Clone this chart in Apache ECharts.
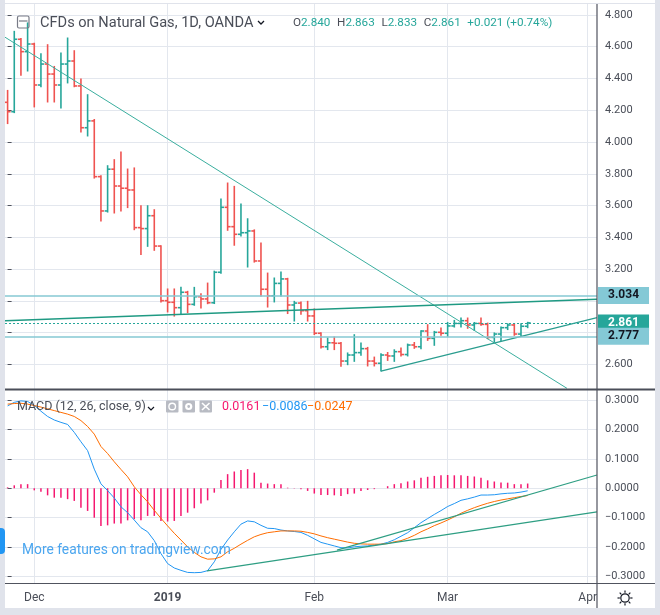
<!DOCTYPE html>
<html>
<head>
<meta charset="utf-8">
<script src="https://cdn.jsdelivr.net/npm/echarts@6/dist/echarts.min.js"></script>
<style>
html, body { margin: 0; padding: 0; background: #fff; }
#container { width: 660px; height: 615px; }
</style>
</head>
<body>
<div id="container"></div>
<script>
// daily bars 27 Nov 2018 .. 19 Mar 2019, x = bar index
var openV = [4.250, 4.191, 4.647, 4.569, 4.617, 4.359, 4.491, 4.428, 4.359, 4.491,
    4.510, 4.353, 4.090, 4.133, 3.782, 3.566, 3.829, 3.723, 3.709, 3.698,
    3.461, 3.455, 3.536, 3.345, 3.001, 2.991, 2.957, 3.054, 2.978, 3.026,
    3.012, 2.988, 3.180, 3.589, 3.467, 3.419, 3.429, 3.440, 3.251, 3.073,
    3.032, 3.110, 3.138, 2.974, 2.986, 2.938, 2.905, 2.796, 2.711, 2.736,
    2.733, 2.621, 2.659, 2.674, 2.699, 2.621, 2.607, 2.659, 2.653, 2.680,
    2.662, 2.722, 2.711, 2.810, 2.764, 2.802, 2.796, 2.842, 2.858, 2.875,
    2.848, 2.858, 2.852, 2.770, 2.791, 2.831, 2.848, 2.791, 2.840];
var highV = [4.323, 4.695, 4.650, 4.748, 4.620, 4.554, 4.611, 4.474, 4.559, 4.653,
    4.573, 4.395, 4.296, 4.140, 3.785, 3.849, 3.887, 3.935, 3.828, 3.835,
    3.597, 3.597, 3.572, 3.345, 3.073, 3.073, 3.083, 3.058, 3.083, 3.043,
    3.110, 3.185, 3.639, 3.740, 3.719, 3.608, 3.515, 3.445, 3.362, 3.173,
    3.142, 3.180, 3.140, 2.995, 2.991, 2.995, 2.947, 2.798, 2.764, 2.770,
    2.736, 2.670, 2.785, 2.733, 2.705, 2.644, 2.665, 2.673, 2.690, 2.701,
    2.726, 2.736, 2.810, 2.848, 2.806, 2.827, 2.862, 2.875, 2.890, 2.890,
    2.862, 2.890, 2.858, 2.796, 2.833, 2.854, 2.854, 2.854, 2.863];
var lowV = [4.118, 4.187, 4.422, 4.449, 4.223, 4.350, 4.254, 4.254, 4.216, 4.374,
    4.350, 4.065, 4.040, 3.775, 3.505, 3.561, 3.555, 3.568, 3.589, 3.450,
    3.293, 3.345, 3.320, 2.995, 2.932, 2.906, 2.917, 2.928, 2.974, 2.957,
    2.984, 2.985, 3.175, 3.446, 3.352, 3.410, 3.215, 3.246, 3.032, 2.963,
    2.995, 3.032, 2.922, 2.875, 2.917, 2.875, 2.790, 2.705, 2.695, 2.695,
    2.590, 2.600, 2.621, 2.659, 2.592, 2.592, 2.560, 2.627, 2.621, 2.655,
    2.655, 2.703, 2.701, 2.753, 2.722, 2.785, 2.779, 2.837, 2.837, 2.829,
    2.816, 2.848, 2.764, 2.743, 2.753, 2.821, 2.785, 2.779, 2.833];
var closeV = [4.191, 4.647, 4.569, 4.617, 4.359, 4.491, 4.428, 4.359, 4.491, 4.510,
    4.353, 4.090, 4.133, 3.782, 3.566, 3.829, 3.723, 3.709, 3.698, 3.461,
    3.455, 3.536, 3.345, 3.001, 2.991, 2.957, 3.054, 2.978, 3.026, 3.012,
    2.988, 3.180, 3.589, 3.467, 3.419, 3.429, 3.440, 3.251, 3.073, 3.032,
    3.110, 3.138, 2.974, 2.986, 2.938, 2.905, 2.796, 2.711, 2.736, 2.733,
    2.621, 2.659, 2.674, 2.699, 2.621, 2.607, 2.659, 2.653, 2.680, 2.662,
    2.722, 2.711, 2.810, 2.764, 2.802, 2.796, 2.842, 2.858, 2.875, 2.848,
    2.858, 2.852, 2.770, 2.791, 2.831, 2.848, 2.791, 2.840, 2.861];

// MACD (12, 26, close, 9)
var macdV = [0.280, 0.292, 0.297, 0.295, 0.282, 0.262, 0.244, 0.232, 0.224, 0.217,
    0.190, 0.158, 0.128, 0.065, 0.015, -0.008, -0.033, -0.063, -0.083, -0.108,
    -0.134, -0.148, -0.178, -0.222, -0.256, -0.271, -0.279, -0.286, -0.287, -0.286,
    -0.280, -0.250, -0.208, -0.176, -0.148, -0.122, -0.111, -0.114, -0.126, -0.136,
    -0.137, -0.142, -0.145, -0.147, -0.150, -0.160, -0.172, -0.184, -0.190, -0.196,
    -0.202, -0.203, -0.199, -0.197, -0.196, -0.193, -0.190, -0.184, -0.175, -0.163,
    -0.151, -0.134, -0.117, -0.103, -0.089, -0.076, -0.062, -0.052, -0.041, -0.036,
    -0.030, -0.023, -0.023, -0.022, -0.019, -0.017, -0.016, -0.013, -0.0086];
var signalV = [0.286, 0.288, 0.289, 0.286, 0.281, 0.276, 0.270, 0.264, 0.258, 0.252,
    0.244, 0.230, 0.210, 0.184, 0.142, 0.118, 0.090, 0.064, 0.039, 0.005,
    -0.022, -0.046, -0.075, -0.102, -0.128, -0.153, -0.176, -0.199, -0.218, -0.233,
    -0.241, -0.240, -0.233, -0.216, -0.204, -0.190, -0.177, -0.165, -0.157, -0.151,
    -0.148, -0.145, -0.145, -0.145, -0.146, -0.150, -0.155, -0.162, -0.168, -0.173,
    -0.178, -0.183, -0.187, -0.189, -0.190, -0.190, -0.190, -0.188, -0.182, -0.178,
    -0.170, -0.160, -0.148, -0.138, -0.127, -0.118, -0.108, -0.097, -0.085, -0.075,
    -0.066, -0.058, -0.051, -0.045, -0.040, -0.036, -0.032, -0.028, -0.0247];
var histV = [0.003, 0.010, 0.014, 0.014, -0.007, -0.012, -0.024, -0.032, -0.032, -0.037,
    -0.043, -0.066, -0.077, -0.100, -0.128, -0.126, -0.120, -0.120, -0.109, -0.105,
    -0.109, -0.094, -0.094, -0.111, -0.113, -0.111, -0.094, -0.083, -0.068, -0.052,
    -0.041, -0.015, 0.028, 0.048, 0.057, 0.062, 0.065, 0.053, 0.019, 0.016,
    0.014, 0.014, 0.002, -0.001, -0.003, -0.009, -0.018, -0.023, -0.023, -0.024,
    -0.026, -0.020, -0.018, -0.009, -0.006, -0.003, 0.000, 0.007, 0.014, 0.017,
    0.023, 0.027, 0.036, 0.039, 0.042, 0.044, 0.045, 0.044, 0.044, 0.042,
    0.040, 0.036, 0.027, 0.023, 0.020, 0.019, 0.014, 0.014, 0.0161];

var tickIdx = [4, 24, 46, 66, 87];
var tickLabels = ['Dec', '2019', 'Feb', 'Mar', 'Apr'];
var priceTicks = [2.6, 2.8, 3.0, 3.2, 3.4, 3.6, 3.8, 4.0, 4.2, 4.4, 4.6, 4.8];
var macdTicks = [-0.3, -0.2, -0.1, 0, 0.1, 0.2, 0.3];
var levels = [3.034, 2.861, 2.777];

// drawn trend lines [barIndex, value]
var trendDown = [[-0.39, 4.660], [83.9, 2.449]];
var trendFlat = [[-0.39, 2.875], [88.4, 3.010]];
var trendUp = [[56, 2.558], [88.4, 2.894]];
var macdTrendLow = [[29.9, -0.281], [88.4, -0.080]];
var macdTrendUp = [[49.4, -0.210], [88.4, 0.045]];

var upColor = '#26a69a';
var downColor = '#ef5350';
var gridColor = '#e3e7ee';
var axisText = '#4a4e58';
var font = 'Roboto, "Liberation Sans", sans-serif';

var bars = openV.map(function (o, i) {
    return [i, o, highV[i], lowV[i], closeV[i]];
});
function pairs(arr) {
    return arr.map(function (v, i) { return [i, v]; });
}
function minus(s) {
    return s.replace('-', '\u2212');
}

function renderBar(params, api) {
    var i = api.value(0);
    var o = api.value(1);
    var c = api.value(4);
    var hi = api.coord([i, api.value(2)]);
    var lo = api.coord([i, api.value(3)]);
    var po = api.coord([i, o]);
    var pc = api.coord([i, c]);
    var w = api.size([1, 0])[0] * 0.45;
    var st = { stroke: c >= o ? upColor : downColor, lineWidth: 1.6 };
    return {
        type: 'group',
        children: [
            { type: 'line', shape: { x1: hi[0], y1: hi[1] - 0.8, x2: lo[0], y2: lo[1] + 0.8 }, style: st },
            { type: 'line', shape: { x1: po[0] - w, y1: po[1], x2: po[0], y2: po[1] }, style: st },
            { type: 'line', shape: { x1: pc[0], y1: pc[1], x2: pc[0] + w, y2: pc[1] }, style: st }
        ]
    };
}

function renderHist(params, api) {
    var i = api.value(0);
    var p0 = api.coord([i, 0]);
    var p1 = api.coord([i, api.value(1)]);
    return {
        type: 'line',
        shape: { x1: p0[0], y1: p0[1], x2: p1[0], y2: p1[1] },
        style: { stroke: '#f5176f', lineWidth: 1.5 }
    };
}

function trend(data, color, width, xi, yi) {
    return {
        type: 'line', data: data, xAxisIndex: xi, yAxisIndex: yi,
        symbol: 'none', silent: true, animation: false,
        lineStyle: { color: color, width: width }
    };
}

var last = closeV.length - 1;
var chg = closeV[last] - openV[last];
var pct = chg / closeV[last - 1] * 100;

var flat = trend(trendFlat, '#1f9a83', 1.6, 0, 0);
flat.markLine = {
    symbol: 'none', silent: true, animation: false, precision: 3,
    data: levels.map(function (v, k) {
        var cur = k === 1;
        return {
            yAxis: v,
            lineStyle: cur ? { color: upColor, width: 1, type: [2, 2] } : { color: '#86c9d3', width: 1.5, type: 'solid' },
            label: {
                show: true, position: 'end', distance: 1,
                formatter: function (p) { return levels[p.dataIndex].toFixed(3); },
                backgroundColor: cur ? upColor : '#84c9d6',
                color: cur ? '#ffffff' : '#131722',
                fontFamily: font, fontSize: 12, fontWeight: 'bold',
                padding: [3, 10, 2, 10]
            }
        };
    })
};

var spokes = [];
for (var a = 0; a < 8; a++) {
    var ang = a * Math.PI / 4;
    spokes.push({
        type: 'line', z: 100,
        shape: { x1: 625 + Math.cos(ang) * 5.2, y1: 598 + Math.sin(ang) * 5.2, x2: 625 + Math.cos(ang) * 7.5, y2: 598 + Math.sin(ang) * 7.5 },
        style: { stroke: '#131722', lineWidth: 1.2 }
    });
}

var myChart = echarts.init(document.getElementById('container'));
var option = {
    backgroundColor: '#ffffff',
    animation: false,
    grid: [
        { left: 5, right: 63, top: 4, height: 385 },
        { left: 5, right: 63, top: 390, height: 193 }
    ],
    xAxis: [{
        gridIndex: 0, type: 'value', min: -0.39, max: 88.4,
        axisLine: { show: false },
        axisTick: { show: false, customValues: tickIdx },
        axisLabel: { show: false, customValues: tickIdx },
        splitLine: { show: true, lineStyle: { color: gridColor } }
    }, {
        gridIndex: 1, type: 'value', min: -0.39, max: 88.4,
        axisLine: { show: false },
        axisTick: { show: false, customValues: tickIdx },
        axisLabel: {
            customValues: tickIdx, margin: 9, color: axisText, fontFamily: font, fontSize: 12,
            formatter: function (v) {
                var k = tickIdx.indexOf(Math.round(v));
                return k === 1 ? '{b|' + tickLabels[k] + '}' : tickLabels[k];
            },
            rich: { b: { fontWeight: 'bold', color: axisText, fontFamily: font, fontSize: 12 } }
        },
        splitLine: { show: true, lineStyle: { color: gridColor } }
    }],
    yAxis: [{
        gridIndex: 0, type: 'value', position: 'right', min: 2.445, max: 4.869,
        axisLine: { show: false },
        axisTick: { show: true, length: 4, customValues: priceTicks, lineStyle: { color: '#50535e' } },
        axisLabel: {
            customValues: priceTicks, margin: 8, color: axisText, fontFamily: font, fontSize: 11,
            formatter: function (v) { return v.toFixed(3); }
        },
        splitLine: { show: true, lineStyle: { color: gridColor } }
    }, {
        gridIndex: 1, type: 'value', position: 'right', min: -0.322, max: 0.334,
        axisLine: { show: false },
        axisTick: { show: true, length: 4, customValues: macdTicks, lineStyle: { color: '#50535e' } },
        axisLabel: {
            customValues: macdTicks, margin: 8, color: axisText, fontFamily: font, fontSize: 11,
            formatter: function (v) { return minus(v.toFixed(4)); }
        },
        splitLine: { show: true, lineStyle: { color: gridColor } }
    }],
    series: [
        trend(trendDown, '#3aae9e', 1, 0, 0),
        flat,
        trend(trendUp, '#2a9d8f', 1.2, 0, 0),
        {
            type: 'custom', name: 'price', data: bars, xAxisIndex: 0, yAxisIndex: 0,
            renderItem: renderBar, clip: true, silent: true,
            encode: { x: 0, y: [1, 2, 3, 4] }
        },
        {
            type: 'custom', name: 'hist', data: pairs(histV), xAxisIndex: 1, yAxisIndex: 1,
            renderItem: renderHist, clip: true, silent: true,
            encode: { x: 0, y: 1 }
        },
        trend(pairs(macdV), '#2196f3', 1, 1, 1),
        trend(pairs(signalV), '#ff6d00', 1, 1, 1),
        trend(macdTrendLow, '#2e9e83', 1.2, 1, 1),
        trend(macdTrendUp, '#2e9e83', 1.2, 1, 1)
    ],
    graphic: [
        { type: 'rect', z: 100, shape: { x: 0, y: 0, width: 5, height: 615 }, style: { fill: '#e0e3eb' } },
        { type: 'rect', z: 100, shape: { x: 655, y: 0, width: 5, height: 615 }, style: { fill: '#e0e3eb' } },
        { type: 'rect', z: 100, shape: { x: 0, y: 608, width: 660, height: 7 }, style: { fill: '#e0e3eb' } },
        { type: 'line', z: 100, shape: { x1: 5, y1: 3.5, x2: 655, y2: 3.5 }, style: { stroke: '#e0e3eb', lineWidth: 1 } },
        { type: 'line', z: 100, shape: { x1: 597, y1: 4, x2: 597, y2: 608 }, style: { stroke: '#50535e', lineWidth: 1.2 } },
        { type: 'line', z: 100, shape: { x1: 5, y1: 389.5, x2: 655, y2: 389.5 }, style: { stroke: '#4a4e59', lineWidth: 2 } },
        { type: 'line', z: 100, shape: { x1: 5, y1: 583.5, x2: 655, y2: 583.5 }, style: { stroke: '#50535e', lineWidth: 1 } },
        { type: 'rect', z: 101, shape: { x: -4, y: 528, width: 9, height: 26, r: 4 }, style: { fill: '#2196f3' } },
        // title row
        { type: 'rect', z: 100, shape: { x: 17.5, y: 16, width: 11.5, height: 12, r: 1.5 }, style: { fill: 'none', stroke: '#787b86', lineWidth: 1.2 } },
        { type: 'line', z: 100, shape: { x1: 19, y1: 21, x2: 27.5, y2: 21 }, style: { stroke: '#787b86', lineWidth: 1.2 } },
        { type: 'text', z: 100, x: 40, y: 23, style: { text: 'CFDs on Natural Gas, 1D, OANDA', fill: '#4a4e58', font: '14.6px ' + font, verticalAlign: 'middle' } },
        { type: 'polyline', z: 100, shape: { points: [[258, 21], [261, 24], [264, 21]] }, style: { stroke: '#131722', lineWidth: 1.3, fill: 'none' } },
        {
            type: 'text', z: 100, x: 293, y: 23,
            style: {
                text: '{k|O}{v|' + openV[last].toFixed(3) + '}  {k|H}{v|' + highV[last].toFixed(3) + '}  {k|L}{v|' + lowV[last].toFixed(3) +
                    '}  {k|C}{v|' + closeV[last].toFixed(3) + '}  {v|+' + chg.toFixed(3) + ' (+' + pct.toFixed(2) + '%)}',
                verticalAlign: 'middle',
                rich: {
                    k: { fill: '#4a4e58', font: '11.7px ' + font },
                    v: { fill: upColor, font: '11.7px ' + font }
                }
            }
        },
        // MACD header
        { type: 'text', z: 100, x: 17, y: 407, style: { text: 'MACD (12, 26, close, 9)', fill: '#4a4e58', font: '12.5px ' + font, verticalAlign: 'middle' } },
        { type: 'polyline', z: 100, shape: { points: [[148, 407], [151, 410], [154, 407]] }, style: { stroke: '#131722', lineWidth: 1.2, fill: 'none' } },
        { type: 'rect', z: 100, shape: { x: 166, y: 400.5, width: 12.5, height: 12, r: 1 }, style: { fill: '#b8bbc3' } },
        { type: 'circle', z: 101, shape: { cx: 172.2, cy: 406.5, r: 3.3 }, style: { fill: 'none', stroke: '#fff', lineWidth: 1.4 } },
        { type: 'rect', z: 100, shape: { x: 182.5, y: 400.5, width: 12.5, height: 12, r: 1 }, style: { fill: '#b8bbc3' } },
        { type: 'circle', z: 101, shape: { cx: 188.7, cy: 406.5, r: 3.6 }, style: { fill: '#fff' } },
        { type: 'circle', z: 102, shape: { cx: 188.7, cy: 406.5, r: 1.4 }, style: { fill: '#b8bbc3' } },
        { type: 'rect', z: 100, shape: { x: 199.5, y: 400.5, width: 12.5, height: 12, r: 1 }, style: { fill: '#b8bbc3' } },
        { type: 'line', z: 101, shape: { x1: 202, y1: 403, x2: 209.5, y2: 410 }, style: { stroke: '#fff', lineWidth: 1.6 } },
        { type: 'line', z: 101, shape: { x1: 209.5, y1: 403, x2: 202, y2: 410 }, style: { stroke: '#fff', lineWidth: 1.6 } },
        { type: 'text', z: 100, x: 222, y: 407, style: { text: histV[last].toFixed(4), fill: '#f5176f', font: '12.5px ' + font, verticalAlign: 'middle' } },
        { type: 'text', z: 100, x: 262, y: 407, style: { text: minus(macdV[last].toFixed(4)), fill: '#2196f3', font: '12.5px ' + font, verticalAlign: 'middle' } },
        { type: 'text', z: 100, x: 307, y: 407, style: { text: minus(signalV[last].toFixed(4)), fill: '#ff6d00', font: '12.5px ' + font, verticalAlign: 'middle' } },
        { type: 'text', z: 100, x: 22, y: 551, style: { text: 'More features on tradingview.com', fill: '#4ba6ef', font: '13.8px ' + font, verticalAlign: 'middle' } },
        { type: 'circle', z: 100, shape: { cx: 625, cy: 598, r: 4.2 }, style: { fill: 'none', stroke: '#131722', lineWidth: 1.2 } }
    ].concat(spokes)
};
myChart.setOption(option);
</script>
</body>
</html>
